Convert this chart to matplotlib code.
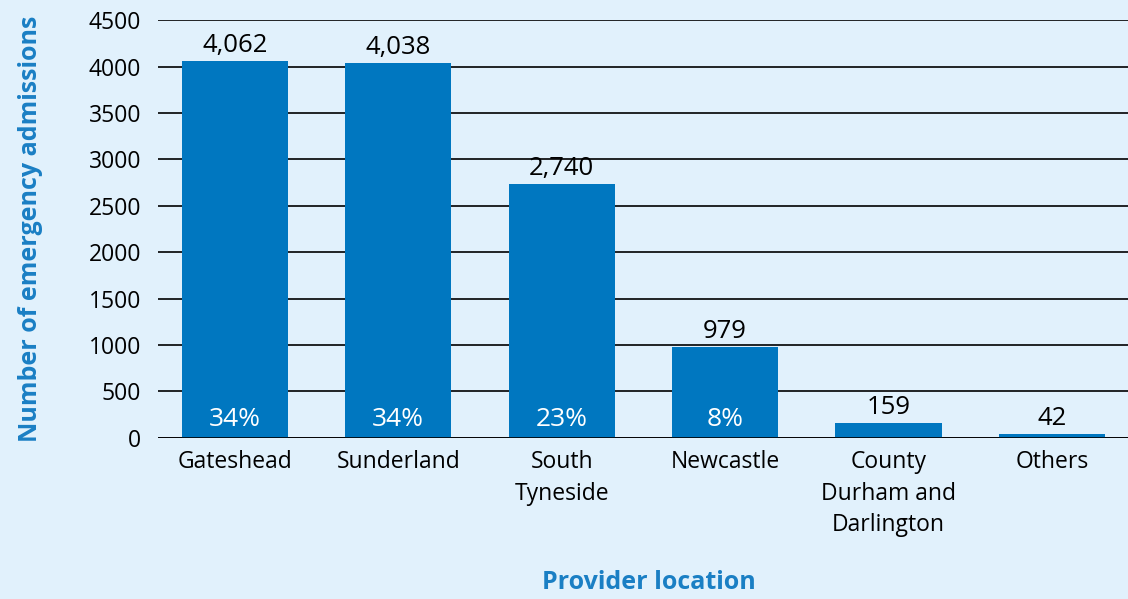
import matplotlib.pyplot as plt
import numpy as np

plt.rcParams['font.family'] = ['Open Sans', 'DejaVu Sans']

locations = ['Gateshead', 'Sunderland', 'South\nTyneside', 'Newcastle',
             'County\nDurham and\nDarlington', 'Others']
admissions = [4062, 4038, 2740, 979, 159, 42]
labels = ['4,062', '4,038', '2,740', '979', '159', '42']
shares = ['34%', '34%', '23%', '8%', '', '']

bg = '#e1f1fc'
bar_color = '#0077c0'
title_color = '#1a7fc4'

fig = plt.figure(figsize=(11.28, 5.99), dpi=100, facecolor=bg)
ax = fig.add_axes([0.140, 0.269, 0.860, 0.6974], facecolor=bg)

x = np.arange(len(locations))
ax.bar(x, admissions, width=0.65, color=bar_color, zorder=3)

for xi, val, lab, sh in zip(x, admissions, labels, shares):
    ax.text(xi, val + 30, lab, ha='center', va='bottom', fontsize=18.5, color='black', zorder=4)
    if sh:
        ax.text(xi, 195, sh, ha='center', va='center', fontsize=19, color='white', zorder=4)

ax.set_ylim(0, 4500)
ax.set_xlim(-0.47, 5.465)
ax.set_yticks(np.arange(0, 4501, 500))
ax.yaxis.grid(True, color='black', linewidth=1.2, zorder=1)
ax.axhline(0, color='black', linewidth=1.2, zorder=5)
ax.tick_params(axis='y', length=0, labelsize=16.5, pad=12)
ax.tick_params(axis='x', length=0, labelsize=16.5, pad=9)
ax.set_xticks(x)
ax.set_xticklabels(locations, linespacing=1.4, va='top')
for s in ax.spines.values():
    s.set_visible(False)

ax.set_ylabel('Number of emergency admissions', fontsize=18, fontweight='bold',
              color=title_color)
ax.yaxis.set_label_coords(-0.118, 0.5)
fig.text(0.575, 0.028, 'Provider location', ha='center', va='center', fontsize=18,
         fontweight='bold', color=title_color)

fig.savefig('out.png', dpi=100, facecolor=bg)
